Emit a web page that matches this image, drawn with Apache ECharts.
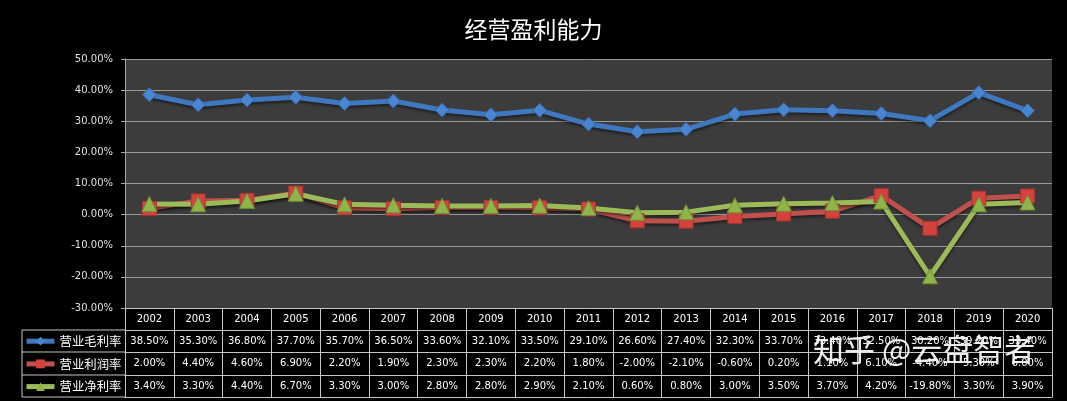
<!DOCTYPE html>
<html>
<head>
<meta charset="utf-8">
<script src="https://cdn.jsdelivr.net/npm/echarts@6/dist/echarts.min.js"></script>
<style>
  html, body { margin: 0; padding: 0; background: #000; }
  #main { width: 1067px; height: 401px; }
</style>
</head>
<body>
<div id="main"></div>
<script>
const years = ['2002', '2003', '2004', '2005', '2006', '2007', '2008', '2009', '2010', '2011',
  '2012', '2013', '2014', '2015', '2016', '2017', '2018', '2019', '2020'];
// 营业毛利率
const grossMargin = [38.5, 35.3, 36.8, 37.7, 35.7, 36.5, 33.6, 32.1, 33.5, 29.1,
  26.6, 27.4, 32.3, 33.7, 33.4, 32.5, 30.2, 39.2, 33.4];
// 营业利润率
const operatingMargin = [2.0, 4.4, 4.6, 6.9, 2.2, 1.9, 2.3, 2.3, 2.2, 1.8,
  -2.0, -2.1, -0.6, 0.2, 1.1, 6.1, -4.4, 5.3, 6.0];
// 营业净利率
const netMargin = [3.4, 3.3, 4.4, 6.7, 3.3, 3.0, 2.8, 2.8, 2.9, 2.1,
  0.6, 0.8, 3.0, 3.5, 3.7, 4.2, -19.8, 3.3, 3.9];
const seriesNames = ['营业毛利率', '营业利润率', '营业净利率'];
const yTicks = { min: -30, max: 50, interval: 10 };

const fmt = (v) => v.toFixed(2) + '%';
const lineColor = '#c4c8c4';
const tableFont = { color: '#ffffff', fontSize: 10, fontFamily: 'DejaVu Sans' };

const chart = echarts.init(document.getElementById('main'));

// 数据表的一行：用带偏移的类目轴画横线和文字
const rowAxis = (offset, values) => ({
  type: 'category',
  data: years,
  position: 'bottom',
  offset: offset,
  boundaryGap: true,
  axisLine: { show: true, onZero: false, lineStyle: { color: lineColor, width: 1 } },
  axisTick: { show: false },
  axisLabel: {
    show: !!values,
    interval: 0,
    margin: 6,
    ...tableFont,
    formatter: (v, i) => (values ? fmt(values[i]) : ''),
  },
  splitLine: { show: false },
});

const option = {
  backgroundColor: '#000000',
  animation: false,
  title: {
    text: '经营盈利能力',
    left: 'center',
    top: 13,
    textStyle: { color: '#ffffff', fontSize: 23, fontWeight: 'normal', fontFamily: 'Noto Sans CJK SC' },
  },
  legend: {
    data: seriesNames,
    orient: 'vertical',
    left: 24,
    top: 335,
    padding: 0,
    itemWidth: 28,
    itemHeight: 11,
    itemGap: 10.3,
    itemStyle: { borderWidth: 0 },
    lineStyle: { width: 5 },
    textStyle: { color: '#ffffff', fontSize: 12.4, fontFamily: 'Noto Sans CJK SC' },
  },
  grid: {
    left: 125,
    right: 15,
    top: 59,
    bottom: 93,
    show: true,
    backgroundColor: '#3c3c3c',
    borderWidth: 0,
  },
  xAxis: [
    {
      type: 'category',
      data: years,
      position: 'bottom',
      boundaryGap: true,
      axisLine: { show: true, onZero: false, lineStyle: { color: lineColor, width: 1 } },
      axisTick: { show: true, interval: 0, length: 89, lineStyle: { color: lineColor, width: 1 } },
      axisLabel: { interval: 0, margin: 6, ...tableFont },
      splitLine: { show: false },
    },
    rowAxis(22, grossMargin),
    rowAxis(44, operatingMargin),
    rowAxis(67, netMargin),
    rowAxis(89, null),
  ],
  yAxis: {
    type: 'value',
    min: yTicks.min,
    max: yTicks.max,
    interval: yTicks.interval,
    axisLine: { show: true, lineStyle: { color: '#a8a8a8', width: 1 } },
    axisTick: { show: true, length: 4, lineStyle: { color: '#a8a8a8' } },
    axisLabel: {
      margin: 12,
      color: '#e0e0e0',
      fontSize: 10,
      fontFamily: 'DejaVu Sans',
      formatter: (v) => fmt(v),
    },
    splitLine: { show: true, lineStyle: { color: '#9a9a9a', width: 1 } },
  },
  series: [
    {
      name: seriesNames[0],
      type: 'line',
      data: grossMargin,
      symbol: 'diamond',
      symbolSize: 14,
      lineStyle: { color: '#4078c0', width: 5, shadowColor: 'rgba(0,0,0,0.5)', shadowBlur: 3, shadowOffsetY: 2 },
      itemStyle: { color: '#4a86cf', borderColor: '#3465a8', borderWidth: 1 },
    },
    {
      name: seriesNames[1],
      type: 'line',
      data: operatingMargin,
      symbol: 'rect',
      symbolSize: 14,
      lineStyle: { color: '#c0504d', width: 5, shadowColor: 'rgba(0,0,0,0.5)', shadowBlur: 3, shadowOffsetY: 2 },
      itemStyle: { color: '#d4423e', borderColor: '#a53431', borderWidth: 1 },
    },
    {
      name: seriesNames[2],
      type: 'line',
      data: netMargin,
      symbol: 'triangle',
      symbolSize: 15,
      lineStyle: { color: '#9bbb59', width: 5, shadowColor: 'rgba(0,0,0,0.5)', shadowBlur: 3, shadowOffsetY: 2 },
      itemStyle: { color: '#8fb44a', borderColor: '#6f8f35', borderWidth: 1 },
    },
  ],
  graphic: [
    // 图例单元格边框
    { type: 'line', shape: { x1: 22, y1: 330, x2: 125, y2: 330 }, style: { stroke: lineColor, lineWidth: 1 } },
    { type: 'line', shape: { x1: 22, y1: 352, x2: 125, y2: 352 }, style: { stroke: lineColor, lineWidth: 1 } },
    { type: 'line', shape: { x1: 22, y1: 375, x2: 125, y2: 375 }, style: { stroke: lineColor, lineWidth: 1 } },
    { type: 'line', shape: { x1: 22, y1: 397, x2: 125, y2: 397 }, style: { stroke: lineColor, lineWidth: 1 } },
    { type: 'line', shape: { x1: 22, y1: 330, x2: 22, y2: 397 }, style: { stroke: lineColor, lineWidth: 1 } },
    // 水印
    {
      type: 'text',
      left: 813,
      top: 334,
      z: 100,
      style: {
        text: '知乎 @云盘智者',
        fill: 'rgba(255,255,255,0.92)',
        font: '31px "Noto Sans CJK SC"',
        shadowColor: 'rgba(0,0,0,0.6)',
        shadowBlur: 2,
      },
    },
  ],
};

chart.setOption(option);
</script>
</body>
</html>
